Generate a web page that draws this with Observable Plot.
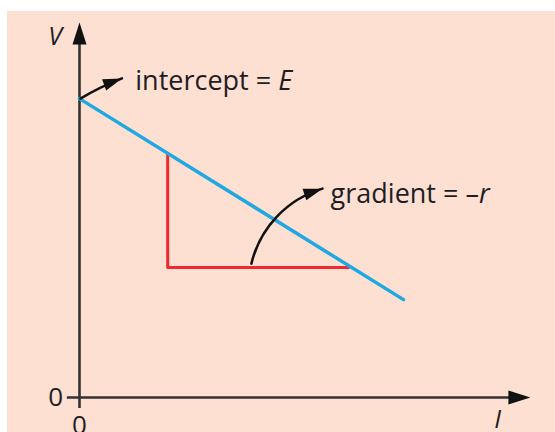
<!DOCTYPE html>
<html><head><meta charset="utf-8">
<script src="https://cdn.jsdelivr.net/npm/d3@7"></script>
<script src="https://cdn.jsdelivr.net/npm/@observablehq/plot@0.6"></script>
<style>
html,body{margin:0;padding:0;background:#fff;}
#wrap{position:relative;width:555px;height:432px;overflow:hidden;}
#bg{position:absolute;left:7px;top:11px;right:0;bottom:0;background:#fde0d1;}
#chart{position:absolute;left:0;top:0;}
</style></head><body>
<div id="wrap"><div id="bg"></div><div id="chart"></div></div>
<script>
// Blue V–I line
const lineI = [0, 7.2];
const lineV = [7.97, 2.61];
// Red gradient triangle
const triI = [1.96, 1.96, 5.98];
const triV = [6.5, 3.47, 3.47];
// Axis extents
const xAxisI = [-0.27, 9.9];
const yAxisV = [-0.29, 9.8];
// Annotation arrows: [intercept, gradient]
const arrStartI = [0.02, 3.82];
const arrStartV = [7.97, 3.57];
const arrEndI = [0.944, 5.4];
const arrEndV = [8.51, 5.57];
// Annotation labels
const noteText = ["intercept = E", "gradient = –r"];
const noteI = [1.24, 5.58];
const noteV = [8.19, 5.2];
// Tick labels
const tickLabels = ["0", "0"];

const line = lineI.map((d, i) => ({I: d, V: lineV[i]}));
const tri = triI.map((d, i) => ({I: d, V: triV[i]}));
const notes = noteText.map((t, i) => ({t, I: noteI[i], V: noteV[i]}));
const axisHeads = [{I: 10.02, V: 0, rot: 90}, {I: 0, V: 10, rot: 0}];
const noteHeads = [{I: arrEndI[0], V: arrEndV[0], rot: 70}, {I: arrEndI[1], V: arrEndV[1], rot: 72}];

const ink = "#333";
const textInk = "#1f1d24";
const font = "Open Sans";

const headBig = {draw(ctx){ ctx.moveTo(0,0); ctx.lineTo(-7,22); ctx.lineTo(7,22); ctx.closePath(); }};
const headSmall = {draw(ctx){ ctx.moveTo(0,0); ctx.lineTo(-6,19); ctx.lineTo(6,19); ctx.closePath(); }};

const plot = Plot.plot({
  width: 555, height: 432,
  marginLeft: 79, marginRight: 26, marginTop: 22, marginBottom: 35,
  style: {background: "transparent", overflow: "visible"},
  x: {domain: [0, 10], axis: null},
  y: {domain: [0, 10], axis: null},
  marks: [
    Plot.ruleY([0], {x1: xAxisI[0], x2: xAxisI[1], stroke: ink, strokeWidth: 2.6}),
    Plot.ruleX([0], {y1: yAxisV[0], y2: yAxisV[1], stroke: ink, strokeWidth: 2.6}),
    Plot.dot(axisHeads, {x: "I", y: "V", rotate: "rot", symbol: headBig, fill: "#111", stroke: "none"}),
    Plot.line(tri, {x: "I", y: "V", stroke: "#ee2a2e", strokeWidth: 3}),
    Plot.line(line, {x: "I", y: "V", stroke: "#1fa8e2", strokeWidth: 3.5}),
    Plot.arrow([0], {x1: () => arrStartI[0], y1: () => arrStartV[0], x2: () => arrEndI[0], y2: () => arrEndV[0], bend: 5, headLength: 0, stroke: "#111", strokeWidth: 2.5}),
    Plot.arrow([0], {x1: () => arrStartI[1], y1: () => arrStartV[1], x2: () => arrEndI[1], y2: () => arrEndV[1], bend: 30, headLength: 0, stroke: "#111", strokeWidth: 2.5}),
    Plot.dot(noteHeads, {x: "I", y: "V", rotate: "rot", symbol: headSmall, fill: "#111", stroke: "none"}),
    Plot.text(notes, {x: "I", y: "V", text: "t", textAnchor: "start", lineAnchor: "bottom", fontSize: 27, fontFamily: font, fill: textInk}),
    Plot.text(["V"], {x: -0.54, y: 9.41, text: d => d, textAnchor: "middle", lineAnchor: "bottom", fontSize: 25, fontStyle: "italic", fontFamily: font, fill: textInk}),
    Plot.text(["I"], {x: 9.29, y: -0.35, text: d => d, textAnchor: "middle", lineAnchor: "top", fontSize: 25, fontStyle: "italic", fontFamily: font, fill: textInk}),
    Plot.text([tickLabels[0]], {x: -0.53, y: 0, text: d => d, textAnchor: "middle", lineAnchor: "middle", fontSize: 26, fontFamily: font, fill: textInk}),
    Plot.text([tickLabels[1]], {x: 0, y: -0.48, text: d => d, textAnchor: "middle", lineAnchor: "top", fontSize: 26, fontFamily: font, fill: textInk})
  ]
});
document.getElementById("chart").appendChild(plot);

// italicise the final symbol of each annotation (E, r)
d3.select(plot).selectAll("text").each(function() {
  const el = d3.select(this);
  const s = this.textContent;
  if (noteText.includes(s)) {
    const head = s.slice(0, -1), tail = s.slice(-1);
    const target = el.select("tspan").empty() ? el : el.select("tspan");
    target.text(null);
    target.append("tspan").text(head);
    target.append("tspan").attr("font-style", "italic").text(tail);
  }
});
</script>
</body></html>
